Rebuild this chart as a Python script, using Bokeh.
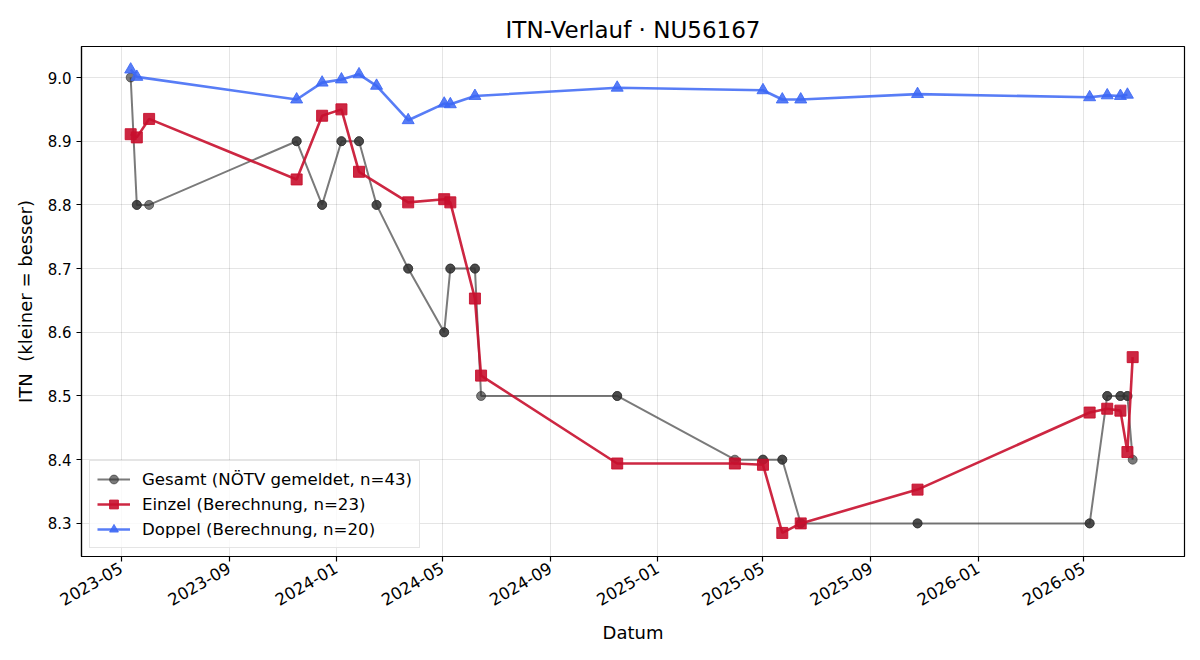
import math
from datetime import datetime

import pandas as pd
from bokeh.embed import file_html
from bokeh.models import (DatetimeTickFormatter, FixedTicker, Legend,
                          LegendItem, NumeralTickFormatter, Range1d)
from bokeh.plotting import figure
from bokeh.resources import INLINE

# ---- data -----------------------------------------------------------------
# Gesamt-ITN as reported by NÖTV (one entry per report, same-day reports repeat)
gesamt_dates = [
    "2023-05-12", "2023-05-19", "2023-05-19", "2023-06-02",
    "2023-11-17", "2023-11-17", "2023-12-16", "2023-12-16",
    "2024-01-07", "2024-01-07", "2024-01-27", "2024-01-27",
    "2024-02-16", "2024-02-16", "2024-03-23", "2024-03-23",
    "2024-05-03", "2024-05-03", "2024-05-10", "2024-05-10",
    "2024-06-07", "2024-06-07", "2024-06-14", "2024-11-16",
    "2024-11-16", "2025-03-30", "2025-05-01", "2025-05-01",
    "2025-05-23", "2025-05-23", "2025-06-13", "2025-06-13",
    "2025-10-24", "2025-10-24", "2026-05-08", "2026-05-08",
    "2026-05-28", "2026-05-28", "2026-06-12", "2026-06-12",
    "2026-06-20", "2026-06-20", "2026-06-26",
]
gesamt_itn = [
    9.0, 8.8, 8.8, 8.8,
    8.9, 8.9, 8.8, 8.8,
    8.9, 8.9, 8.9, 8.9,
    8.8, 8.8, 8.7, 8.7,
    8.6, 8.6, 8.7, 8.7,
    8.7, 8.7, 8.5, 8.5,
    8.5, 8.4, 8.4, 8.4,
    8.4, 8.4, 8.3, 8.3,
    8.3, 8.3, 8.3, 8.3,
    8.5, 8.5, 8.5, 8.5,
    8.5, 8.5, 8.4,
]

# Einzel-ITN (computed)
einzel_dates = [
    "2023-05-12", "2023-05-19", "2023-06-02", "2023-11-17", "2023-12-16",
    "2024-01-07", "2024-01-27", "2024-03-23", "2024-05-03", "2024-05-10",
    "2024-06-07", "2024-06-14", "2024-11-16", "2025-03-30", "2025-05-01",
    "2025-05-23", "2025-06-13", "2025-10-24", "2026-05-08", "2026-05-28",
    "2026-06-12", "2026-06-20", "2026-06-26",
]
einzel_itn = [
    8.911, 8.906, 8.935, 8.840, 8.940,
    8.950, 8.852, 8.804, 8.809, 8.804,
    8.653, 8.532, 8.394, 8.394, 8.392,
    8.285, 8.300, 8.353, 8.474, 8.480,
    8.477, 8.412, 8.561,
]

# Doppel-ITN (computed)
doppel_dates = [
    "2023-05-12", "2023-05-19", "2023-11-17", "2023-12-16", "2024-01-07",
    "2024-01-27", "2024-02-16", "2024-03-23", "2024-05-03", "2024-05-10",
    "2024-06-07", "2024-11-16", "2025-05-01", "2025-05-23", "2025-06-13",
    "2025-10-24", "2026-05-08", "2026-05-28", "2026-06-12", "2026-06-20",
]
doppel_itn = [
    9.0125, 9.001, 8.9655, 8.992, 8.997,
    9.005, 8.987, 8.933, 8.959, 8.958,
    8.971, 8.984, 8.980, 8.9655, 8.9655,
    8.974, 8.969, 8.972, 8.971, 8.973,
]

tick_months = ["2023-05", "2023-09", "2024-01", "2024-05", "2024-09",
               "2025-01", "2025-05", "2025-09", "2026-01", "2026-05"]
y_ticks = [8.3, 8.4, 8.5, 8.6, 8.7, 8.8, 8.9, 9.0]

# ---- figure ---------------------------------------------------------------
FONT = "DejaVu Sans"

p = figure(
    width=1200, height=660,
    x_axis_type="datetime",
    x_range=Range1d(datetime(2023, 3, 17), datetime(2026, 8, 24)),
    y_range=Range1d(8.248, 9.0487),
    output_backend="svg", toolbar_location=None,
    min_border_left=81, min_border_right=16,
    min_border_top=46, min_border_bottom=104,
    background_fill_color="white", border_fill_color="white",
)
p.outline_line_color = "black"
p.outline_line_width = 1.2
p.outline_line_alpha = 1.0

p.title.text = "ITN-Verlauf · NU56167"
p.title.align = "center"
p.title.text_font = FONT
p.title.text_font_size = "23px"
p.title.text_font_style = "normal"
p.title.text_color = "black"
p.title.standoff = 8

tick_ms = [pd.Timestamp(m + "-01").value // 10**6 for m in tick_months]
xticker = FixedTicker(ticks=tick_ms)
p.xaxis.ticker = xticker
p.xgrid.ticker = xticker
fmt = "%Y-%m"
p.xaxis.formatter = DatetimeTickFormatter(
    milliseconds=fmt, seconds=fmt, minsec=fmt, minutes=fmt, hourmin=fmt,
    hours=fmt, days=fmt, months=fmt, years=fmt, context=None)
p.xaxis.major_label_orientation = math.pi / 6

yticker = FixedTicker(ticks=y_ticks)
p.yaxis.ticker = yticker
p.ygrid.ticker = yticker
p.yaxis.formatter = NumeralTickFormatter(format="0.0")

for ax in (p.xaxis, p.yaxis):
    ax.axis_line_color = "black"
    ax.axis_line_width = 1.2
    ax.major_tick_line_color = "black"
    ax.major_tick_line_width = 1.2
    ax.major_tick_out = 5
    ax.major_tick_in = 0
    ax.minor_tick_line_color = None
    ax.major_label_text_font = FONT
    ax.major_label_text_color = "black"
    ax.major_label_standoff = 5
    ax.axis_label_text_font = FONT
    ax.axis_label_text_font_size = "18px"
    ax.axis_label_text_font_style = "normal"
    ax.axis_label_text_color = "black"

p.xaxis.major_label_text_font_size = "16.5px"
p.yaxis.major_label_text_font_size = "15px"

p.xaxis.axis_label = "Datum"
p.yaxis.axis_label = "ITN\u00a0 (kleiner = besser)"
p.xaxis.axis_label_standoff = 8
p.yaxis.axis_label_standoff = 9

for g in (p.xgrid, p.ygrid):
    g.grid_line_color = "black"
    g.grid_line_alpha = 0.1
    g.grid_line_width = 1

# ---- series ---------------------------------------------------------------
gx = pd.to_datetime(gesamt_dates)
ex = pd.to_datetime(einzel_dates)
dx = pd.to_datetime(doppel_dates)

GRAY = "#333333"
RED = "#C8102E"
BLUE = "#3B66F5"

g_line = p.line(gx, gesamt_itn, line_color=GRAY, line_alpha=0.65, line_width=2)
g_pts = p.scatter(gx, gesamt_itn, marker="circle", size=9,
                  fill_color=GRAY, fill_alpha=0.65,
                  line_color=GRAY, line_alpha=0.65)

e_line = p.line(ex, einzel_itn, line_color=RED, line_alpha=0.9, line_width=2.6)
e_pts = p.scatter(ex, einzel_itn, marker="square", size=11,
                  fill_color=RED, fill_alpha=0.9,
                  line_color=RED, line_alpha=0.9)

d_line = p.line(dx, doppel_itn, line_color=BLUE, line_alpha=0.85, line_width=2.6)
d_pts = p.scatter(dx, doppel_itn, marker="triangle", size=12,
                  fill_color=BLUE, fill_alpha=0.85,
                  line_color=BLUE, line_alpha=0.85)

legend = Legend(
    items=[
        LegendItem(label=f"Gesamt (NÖTV gemeldet, n={len(gesamt_itn)})",
                   renderers=[g_line, g_pts]),
        LegendItem(label=f"Einzel (Berechnung, n={len(einzel_itn)})",
                   renderers=[e_line, e_pts]),
        LegendItem(label=f"Doppel (Berechnung, n={len(doppel_itn)})",
                   renderers=[d_line, d_pts]),
    ],
    location="bottom_left",
    margin=8,
    padding=7,
    spacing=3,
    glyph_width=33,
    glyph_height=22,
    label_standoff=12,
    label_text_font=FONT,
    label_text_font_size="16.6px",
    label_text_color="black",
    border_line_color="#cccccc",
    border_line_width=1,
    background_fill_color="white",
    background_fill_alpha=0.8,
)
p.add_layout(legend, "center")

open("out.html", "w").write(file_html(p, INLINE))
